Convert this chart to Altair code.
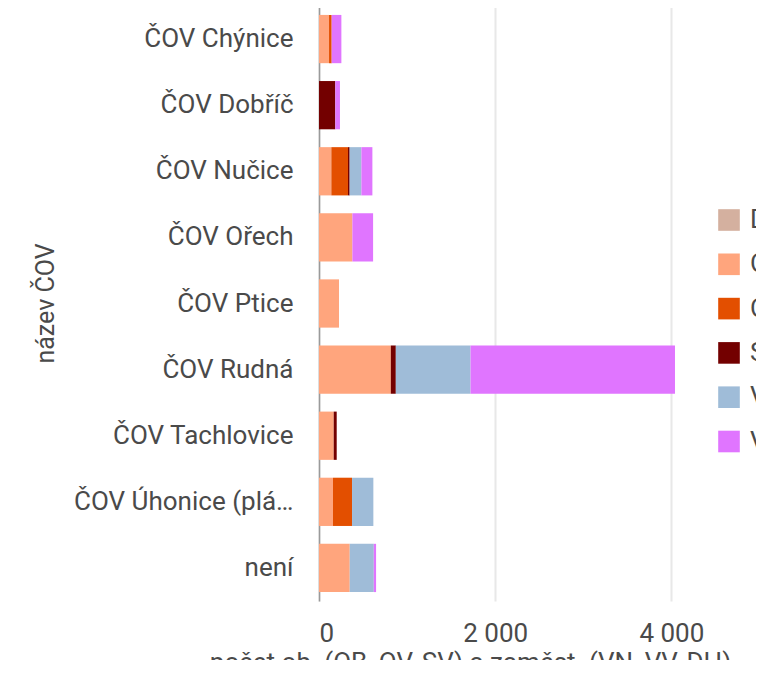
import altair as alt
import pandas as pd

names = ["ČOV Chýnice", "ČOV Dobříč", "ČOV Nučice", "ČOV Ořech", "ČOV Ptice",
         "ČOV Rudná", "ČOV Tachlovice", "ČOV Úhonice (plánovaná)", "není "]
keys = ["DH", "OB", "OV", "SV", "VN", "VV"]
colors = ["#d4b09f", "#ffa57d", "#e34f00", "#730000", "#9fbcd8", "#e075ff"]

DH = [0, 0, 0, 0, 0, 0, 0, 0, 0]
OB = [114, 0, 140, 379, 227, 815, 167, 159, 349]
OV = [30, 0, 189, 0, 0, 0, 0, 216, 0]
SV = [0, 185, 19, 0, 0, 57, 34, 0, 0]
VN = [0, 0, 133, 0, 0, 848, 0, 242, 273]
VV = [110, 53, 125, 235, 0, 2321, 0, 0, 26]

series = {"DH": DH, "OB": OB, "OV": OV, "SV": SV, "VN": VN, "VV": VV}
rows = []
for i, n in enumerate(names):
    for j, k in enumerate(keys):
        v = series[k][i]
        if v > 0:
            rows.append({"name": n, "typ": k, "value": v, "ord": j})
df = pd.DataFrame(rows)

FONT = "Roboto"
TXT = "#4a4a4a"

chart = alt.Chart(df).mark_bar().encode(
    x=alt.X("value:Q", stack="zero",
            scale=alt.Scale(domain=[0, 4200], nice=False),
            axis=alt.Axis(values=[0, 2000, 4000],
                          title="počet ob. (OB, OV, SV) a zaměst. (VN, VV, DH)",
                          labelExpr="replace(format(datum.value, ','), ',', ' ')",
                          ticks=False, domain=False, grid=True,
                          gridColor="#e8e8e8", gridWidth=2,
                          labelPadding=19, labelFontSize=26, labelColor=TXT, labelFont=FONT,
                          titleFontSize=26, titleFontWeight="normal", titleColor=TXT, titleFont=FONT,
                          titleX=151, titleY=61, titleAlign="center", titleBaseline="middle")),
    y=alt.Y("name:N", sort=names,
            scale=alt.Scale(paddingInner=0.27, paddingOuter=0.135),
            axis=alt.Axis(title="název ČOV", ticks=False, labelPadding=26, labelLimit=221,
                          domainColor="#9a9a9a", domainWidth=1.5,
                          labelFontSize=26, labelColor=TXT, labelFont=FONT,
                          titleFontSize=25, titleFontWeight="normal", titleColor=TXT, titleFont=FONT,
                          titleX=-274, titleY=297, titleAngle=-90,
                          titleAlign="center", titleBaseline="middle")),
    color=alt.Color("typ:N", scale=alt.Scale(domain=keys, range=colors),
                    legend=alt.Legend(title=None, orient="none", legendX=397, legendY=201,
                                      symbolType="square", symbolSize=467, symbolStrokeWidth=0,
                                      labelFontSize=26, labelColor=TXT, labelFont=FONT,
                                      labelOffset=8, rowPadding=18.3, padding=0)),
    order=alt.Order("ord:Q", sort="ascending"),
).properties(
    width=370, height=595,
    padding={"left": 311, "top": -2, "right": 67, "bottom": 59},
    autosize=alt.AutoSizeParams(type="none"),
).configure_view(stroke=None)

chart.save("out.html", embed_options={"renderer": "svg", "actions": False})
